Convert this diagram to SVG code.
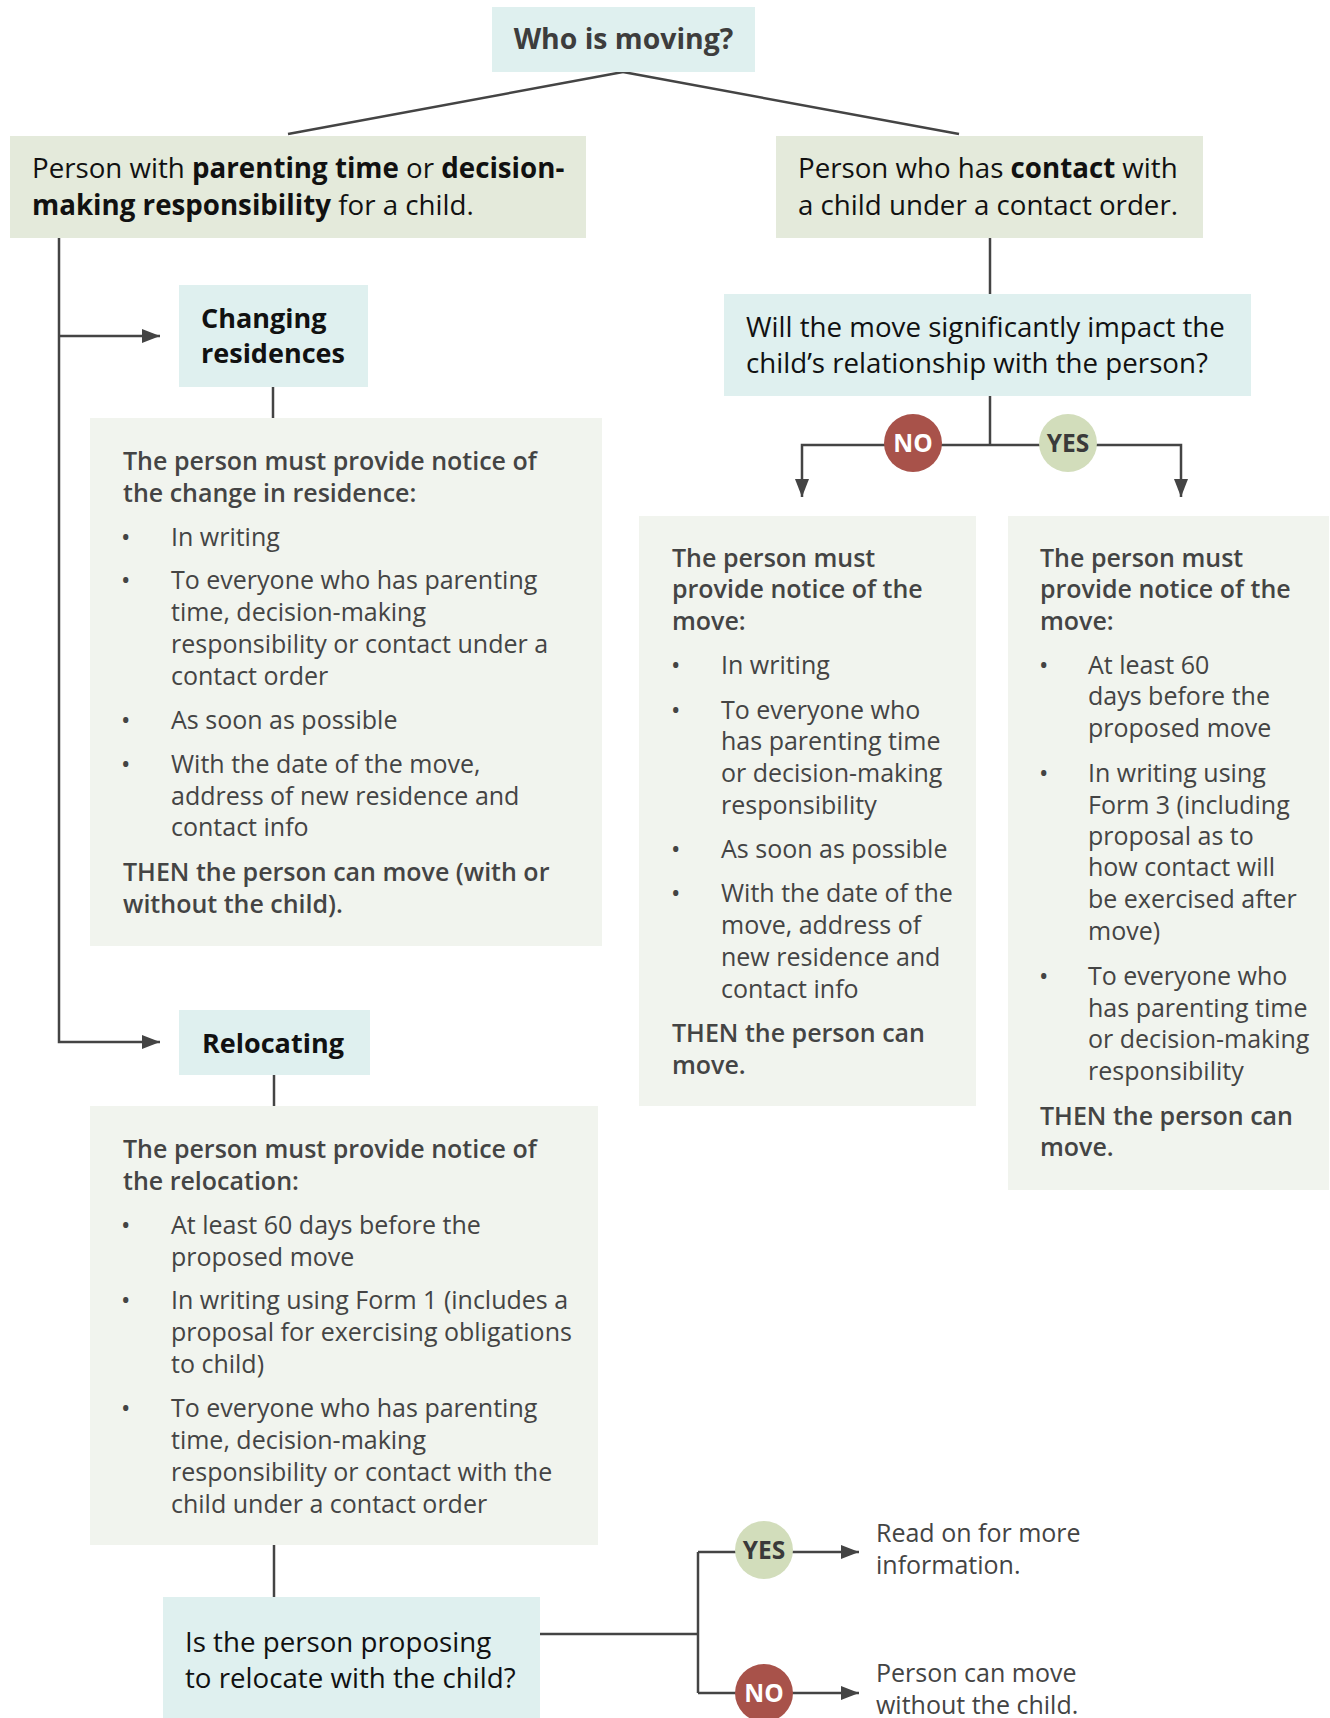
<svg xmlns="http://www.w3.org/2000/svg" width="1330" height="1718" viewBox="0 0 1330 1718">
<style>
text{font-family:"Open Sans","Noto Sans","Liberation Sans",sans-serif}
.big{font-size:27.7px;fill:#111}
.hd{font-size:27px;font-weight:700;fill:#111}
.body{font-size:25px;fill:#444}
.b{font-weight:700}
.sb{font-weight:600}
.cyan{fill:#dff0ef}
.green{fill:#e4eadb}
.light{fill:#f1f4ee}
.ln{stroke:#444;stroke-width:2.5;fill:none}
.no{fill:#a8524a}
.yes{fill:#d2ddbb}
.ct{font-size:24.5px;font-weight:700;text-anchor:middle}
</style>
<defs>
<marker id="arr" viewBox="0 0 18 14" refX="18" refY="7" markerWidth="18" markerHeight="14" markerUnits="userSpaceOnUse" orient="auto">
<path d="M0,0 L18,7 L0,14 z" fill="#444"/>
</marker>
</defs>

<g id="connectors">
<path class="ln" d="M623,72 L288,134"/>
<path class="ln" d="M623,72 L959,134"/>
<path class="ln" d="M59,238 V1042 H160" marker-end="url(#arr)"/>
<path class="ln" d="M59,336 H160" marker-end="url(#arr)"/>
<path class="ln" d="M273,387 V418"/>
<path class="ln" d="M990,238 V294"/>
<path class="ln" d="M990,396 V445"/>
<path class="ln" d="M990,445 H802 V497" marker-end="url(#arr)"/>
<path class="ln" d="M990,445 H1181 V497" marker-end="url(#arr)"/>
<path class="ln" d="M274,1075 V1106"/>
<path class="ln" d="M274,1545 V1597"/>
<path class="ln" d="M540,1634 H698"/>
<path class="ln" d="M698,1552 V1693"/>
<path class="ln" d="M698,1552 H859" marker-end="url(#arr)"/>
<path class="ln" d="M698,1693 H859" marker-end="url(#arr)"/>
</g>

<g id="who">
<rect class="cyan" x="492" y="7" width="263" height="65"/>
<text x="623.5" y="49" text-anchor="middle" class="b" style="font-size:28.4px;fill:#3d3d3d">Who is moving?</text>
</g>

<g id="parenting">
<rect class="green" x="10" y="136" width="576" height="102"/>
<text class="big" x="32" y="178">Person with <tspan class="b">parenting time</tspan> or <tspan class="b">decision-</tspan></text>
<text class="big" x="32" y="215"><tspan class="b">making responsibility</tspan> for a child.</text>
</g>

<g id="contact">
<rect class="green" x="776" y="136" width="427" height="102"/>
<text class="big" x="798" y="178">Person who has <tspan class="b">contact</tspan> with</text>
<text class="big" x="798" y="215">a child under a contact order.</text>
</g>

<g id="impact">
<rect class="cyan" x="724" y="294" width="527" height="102"/>
<text class="big" x="746" y="337">Will the move significantly impact the</text>
<text class="big" x="746" y="373">child’s relationship with the person?</text>
</g>

<g id="no1">
<circle class="no" cx="913" cy="443" r="29"/>
<text class="ct" x="913" y="452" fill="#fff">NO</text>
</g>
<g id="yes1">
<circle class="yes" cx="1068" cy="443" r="29"/>
<text class="ct" x="1068" y="452" fill="#3a3a3a">YES</text>
</g>

<g id="changing">
<rect class="cyan" x="179" y="285" width="189" height="102"/>
<text class="hd" x="201" y="328">Changing</text>
<text class="hd" x="201" y="363">residences</text>
</g>

<g id="residence-notice">
<rect class="light" x="90" y="418" width="512" height="528"/>
<text class="body sb" x="123" y="470">The person must provide notice of</text>
<text class="body sb" x="123" y="502">the change in residence:</text>
<text class="body" x="121" y="546">•</text><text class="body" x="171" y="546">In writing</text>
<text class="body" x="121" y="589">•</text><text class="body" x="171" y="589">To everyone who has parenting</text>
<text class="body" x="171" y="621">time, decision-making</text>
<text class="body" x="171" y="653">responsibility or contact under a</text>
<text class="body" x="171" y="685">contact order</text>
<text class="body" x="121" y="729">•</text><text class="body" x="171" y="729">As soon as possible</text>
<text class="body" x="121" y="773">•</text><text class="body" x="171" y="773">With the date of the move,</text>
<text class="body" x="171" y="805">address of new residence and</text>
<text class="body" x="171" y="836">contact info</text>
<text class="body sb" x="123" y="881">THEN the person can move (with or</text>
<text class="body sb" x="123" y="913">without the child).</text>
</g>

<g id="no-notice">
<rect class="light" x="639" y="516" width="337" height="590"/>
<text class="body sb" x="672" y="567">The person must</text>
<text class="body sb" x="672" y="598">provide notice of the</text>
<text class="body sb" x="672" y="630">move:</text>
<text class="body" x="671" y="674">•</text><text class="body" x="721" y="674">In writing</text>
<text class="body" x="671" y="719">•</text><text class="body" x="721" y="719">To everyone who</text>
<text class="body" x="721" y="750">has parenting time</text>
<text class="body" x="721" y="782">or decision-making</text>
<text class="body" x="721" y="814">responsibility</text>
<text class="body" x="671" y="858">•</text><text class="body" x="721" y="858">As soon as possible</text>
<text class="body" x="671" y="902">•</text><text class="body" x="721" y="902">With the date of the</text>
<text class="body" x="721" y="934">move, address of</text>
<text class="body" x="721" y="966">new residence and</text>
<text class="body" x="721" y="998">contact info</text>
<text class="body sb" x="672" y="1042">THEN the person can</text>
<text class="body sb" x="672" y="1074">move.</text>
</g>

<g id="yes-notice">
<rect class="light" x="1008" y="516" width="321" height="674"/>
<text class="body sb" x="1040" y="567">The person must</text>
<text class="body sb" x="1040" y="598">provide notice of the</text>
<text class="body sb" x="1040" y="630">move:</text>
<text class="body" x="1039" y="674">•</text><text class="body" x="1088" y="674">At least 60</text>
<text class="body" x="1088" y="705">days before the</text>
<text class="body" x="1088" y="737">proposed move</text>
<text class="body" x="1039" y="782">•</text><text class="body" x="1088" y="782">In writing using</text>
<text class="body" x="1088" y="814">Form 3 (including</text>
<text class="body" x="1088" y="845">proposal as to</text>
<text class="body" x="1088" y="876">how contact will</text>
<text class="body" x="1088" y="908">be exercised after</text>
<text class="body" x="1088" y="940">move)</text>
<text class="body" x="1039" y="985">•</text><text class="body" x="1088" y="985">To everyone who</text>
<text class="body" x="1088" y="1017">has parenting time</text>
<text class="body" x="1088" y="1048">or decision-making</text>
<text class="body" x="1088" y="1080">responsibility</text>
<text class="body sb" x="1040" y="1125">THEN the person can</text>
<text class="body sb" x="1040" y="1156">move.</text>
</g>

<g id="relocating">
<rect class="cyan" x="179" y="1010" width="191" height="65"/>
<text class="hd" x="202" y="1053">Relocating</text>
</g>

<g id="relocation-notice">
<rect class="light" x="90" y="1106" width="508" height="439"/>
<text class="body sb" x="123" y="1158">The person must provide notice of</text>
<text class="body sb" x="123" y="1190">the relocation:</text>
<text class="body" x="121" y="1234">•</text><text class="body" x="171" y="1234">At least 60 days before the</text>
<text class="body" x="171" y="1266">proposed move</text>
<text class="body" x="121" y="1309">•</text><text class="body" x="171" y="1309">In writing using Form 1 (includes a</text>
<text class="body" x="171" y="1341">proposal for exercising obligations</text>
<text class="body" x="171" y="1373">to child)</text>
<text class="body" x="121" y="1417">•</text><text class="body" x="171" y="1417">To everyone who has parenting</text>
<text class="body" x="171" y="1449">time, decision-making</text>
<text class="body" x="171" y="1481">responsibility or contact with the</text>
<text class="body" x="171" y="1513">child under a contact order</text>
</g>

<g id="with-child">
<rect class="cyan" x="163" y="1597" width="377" height="121"/>
<text class="big" x="185" y="1652">Is the person proposing</text>
<text class="big" x="185" y="1688">to relocate with the child?</text>
</g>

<g id="yes2">
<circle class="yes" cx="764" cy="1550" r="29"/>
<text class="ct" x="764" y="1559" fill="#3a3a3a">YES</text>
</g>
<g id="no2">
<circle class="no" cx="764" cy="1693" r="29"/>
<text class="ct" x="764" y="1702" fill="#fff">NO</text>
</g>

<g id="read-on">
<text class="body" x="876" y="1542">Read on for more</text>
<text class="body" x="876" y="1574">information.</text>
</g>
<g id="without-child">
<text class="body" x="876" y="1682">Person can move</text>
<text class="body" x="876" y="1714">without the child.</text>
</g>
</svg>
